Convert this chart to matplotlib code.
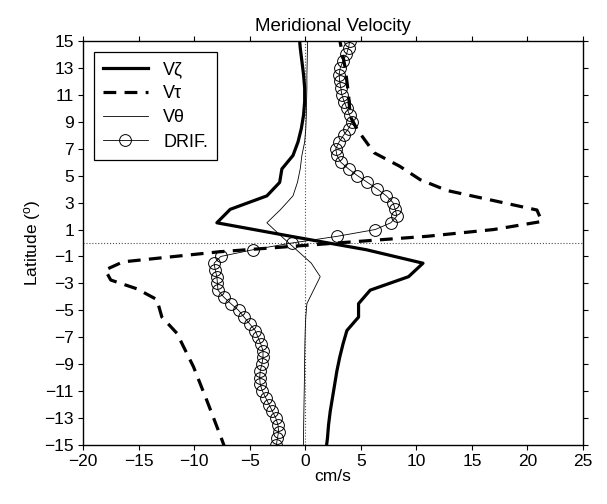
import matplotlib
matplotlib.use('Agg')
import matplotlib.pyplot as plt
import numpy as np

plt.rcParams['font.family'] = ['Liberation Sans', 'DejaVu Sans']
plt.rcParams['mathtext.default'] = 'regular'

# model curves, one value per degree at the half-degree latitudes
lat_model = [-15.5, -14.5, -13.5, -12.5, -11.5, -10.5, -9.5, -8.5, -7.5, -6.5,
             -5.5, -4.5, -3.5, -2.5, -1.5, -0.5, 0.5, 1.5, 2.5, 3.5,
             4.5, 5.5, 6.5, 7.5, 8.5, 9.5, 10.5, 11.5, 12.5, 13.5, 14.5, 15.5]
v_zeta = [1.85, 2.0, 2.1, 2.25, 2.45, 2.65, 2.85, 3.1, 3.4, 3.75,
          4.8, 4.8, 5.85, 9.3, 10.6, 5.5, -1.3, -7.95, -6.75, -3.45,
          -2.3, -2.1, -1.1, -0.65, -0.35, -0.15, -0.05, -0.05, -0.15, -0.3, -0.45, -0.55]
v_theta = [-0.15, -0.15, -0.14, -0.12, -0.1, -0.08, -0.06, -0.05, -0.03, 0.0,
           0.05, 0.15, 0.75, 1.35, 0.55, -0.8, -2.15, -3.45, -2.2, -1.1,
           -0.7, -0.45, -0.3, -0.05, 0.05, 0.1, 0.12, 0.15, 0.15, 0.18, 0.2, 0.2]

# wind-driven part, read at its corners
lat_tau = [15.5, 13, 11, 9.4, 8.4, 6.7, 5.7, 4.7, 3.9, 2.45, 1.6, 1.0, 0.5,
           -0.65, -1.4, -2.0, -2.75, -3.4, -4.2, -5.5, -6.7, -9.2, -11.7, -14.6, -15.5]
v_tau = [3.0, 3.6, 3.9, 4.05, 4.7, 6.2, 8.5, 10.35, 12.75, 20.85, 21.3, 16.95, 11.0,
         -7.7, -16.4, -18.0, -17.5, -15.15, -13.35, -12.9, -11.55, -10.05, -8.85, -7.5, -7.1]

# drifter estimate every half degree
lat_drif = [-15, -14.5, -14, -13.5, -13, -12.5, -12, -11.5, -11, -10.5,
            -10, -9.5, -9, -8.5, -8, -7.5, -7, -6.5, -6, -5.5,
            -5, -4.5, -4, -3.5, -3, -2.5, -2, -1.5, -1, -0.5,
            0, 0.5, 1, 1.5, 2, 2.5, 3, 3.5, 4, 4.5,
            5, 5.5, 6, 6.5, 7, 7.5, 8, 8.5, 9, 9.5,
            10, 10.5, 11, 11.5, 12, 12.5, 13, 13.5, 14, 14.5, 15]
v_drif = [-2.6, -2.5, -2.4, -2.45, -2.65, -2.95, -3.25, -3.55, -3.85, -4.05,
          -4.1, -4.05, -3.9, -3.8, -3.8, -4.0, -4.25, -4.5, -5.0, -5.5,
          -6.0, -6.7, -7.35, -7.85, -7.9, -7.95, -8.1, -8.2, -7.6, -4.7,
          -1.2, 2.9, 6.3, 7.7, 8.25, 8.1, 7.9, 7.3, 6.5, 5.6,
          4.7, 3.9, 3.2, 2.85, 2.75, 3.05, 3.45, 3.9, 4.2, 4.0,
          3.75, 3.5, 3.3, 3.2, 3.1, 3.05, 3.15, 3.4, 3.7, 3.9, 4.0]

xticks = [-20, -15, -10, -5, 0, 5, 10, 15, 20, 25]
yticks = list(range(-15, 16, 2))

fig = plt.figure(figsize=(6.07, 5.04), dpi=100)
ax = fig.add_axes([0.1367, 0.117, 0.8238, 0.8017])

ax.axvline(0, color='0.3', ls=':', lw=0.8)
ax.axhline(0, color='0.3', ls=':', lw=0.8)

ax.plot(v_zeta, lat_model, color='k', lw=2.3, label='V\u03b6')
ax.plot(v_tau, lat_tau, color='k', lw=2.3, ls=(0, (4, 2.6)), label='V\u03c4')
ax.plot(v_theta, lat_model, color='k', lw=0.6, label='V\u03b8')
ax.plot(v_drif, lat_drif, color='k', lw=0.6, marker='o', ms=8.5,
        mfc='none', mec='k', mew=0.7, label='DRIF.')

ax.set_xlim(-20, 25)
ax.set_ylim(-15, 15)
ax.set_xticks(xticks)
ax.set_yticks(yticks)
ax.tick_params(direction='out', length=3.5, width=0.8, labelsize=12.5,
               top=True, right=True, pad=3)
for s in ax.spines.values():
    s.set_linewidth(1.0)

ax.set_title('Meridional Velocity', fontsize=13.5, pad=7)
ax.set_xlabel('cm/s', fontsize=12.5, labelpad=0)
ax.set_ylabel('Latitude ($^o$)', fontsize=12.5, labelpad=1)

leg = ax.legend(loc='upper left', fontsize=13, handlelength=2.5,
                handletextpad=0.85, fancybox=False, edgecolor='k',
                framealpha=1, borderaxespad=0.6, labelspacing=0.4,
                borderpad=0.5)
leg.get_frame().set_linewidth(0.9)

fig.savefig('out.png', dpi=100)
